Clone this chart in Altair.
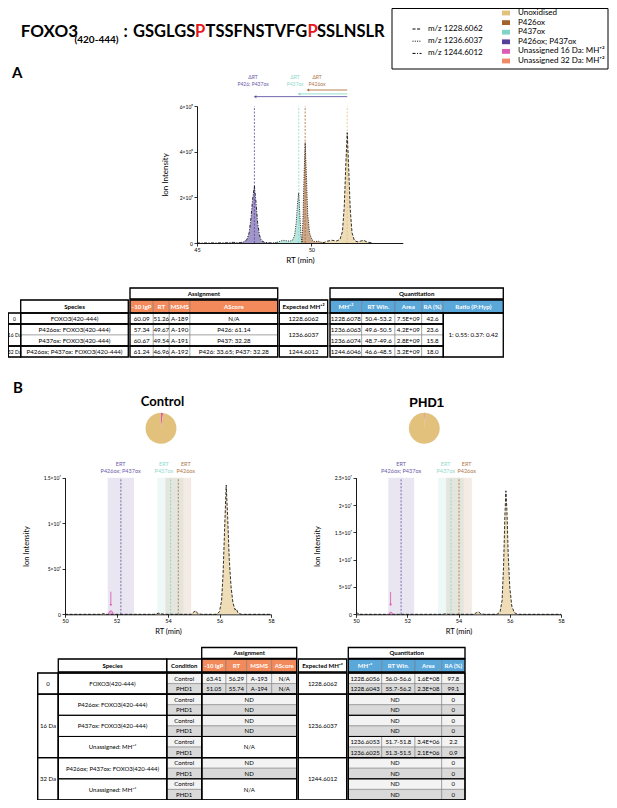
import altair as alt
import pandas as pd

W, H = 601, 792
M = 8  # page margin: reference page coords -> canvas coords

# ---------------- categories / styles ----------------
SPECIES = ["Unoxidised", "P426ox", "P437ox", "P426ox; P437ox",
           "Unassigned 16 Da: MH⁺²", "Unassigned 32 Da: MH⁺²"]
SPECIES_COLORS = ["#E2C17D", "#A2622C", "#7FD4C4", "#54409A", "#DD5CB6", "#EF8B67"]
MZ = ["m/z 1228.6062", "m/z 1236.6037", "m/z 1244.6012"]
MZ_DASH = [[3, 1.6], [1, 1.3], [3, 1.5, 1, 1.5]]
SALMON = "#F38A5C"
BLUE = "#5AA7DA"
CTRL_FILL = "#F3F3F3"
PHD_FILL = "#D9D9D9"

# ---------------- Panel A chromatogram data ----------------
A_PP_RT = [45.0, 45.8, 46.4, 46.6, 46.75, 46.9, 47.05, 47.18, 47.28, 47.36, 47.43, 47.51, 47.58, 47.65, 47.73, 47.82, 47.95, 48.15, 48.5]
A_PP_INT = [0, 0.004e8, 0.01e8, 0.03e8, 0.01e8, 0.02e8, 0.05e8, 0.15e8, 0.45e8, 1.1e8, 1.9e8, 2.5e8, 1.8e8, 0.9e8, 0.35e8, 0.1e8, 0.03e8, 0.01e8, 0]
A_P437_RT = [48.4, 48.6, 48.75, 48.9, 49.05, 49.18, 49.27, 49.34, 49.4, 49.45, 49.5, 49.55, 49.6]
A_P437_INT = [0, 0.06e8, 0.12e8, 0.1e8, 0.08e8, 0.12e8, 0.35e8, 0.9e8, 1.8e8, 2.2e8, 1.2e8, 0.3e8, 0.03e8]
A_P426_RT = [49.58, 49.63, 49.68, 49.73, 49.78, 49.84, 49.92, 50.02, 50.15, 50.3, 50.45, 50.6]
A_P426_INT = [0.03e8, 0.9e8, 2.9e8, 4.4e8, 3.1e8, 1.3e8, 0.45e8, 0.15e8, 0.06e8, 0.08e8, 0.03e8, 0]
A_UNOX_RT = [50.5, 50.7, 50.9, 51.1, 51.25, 51.36, 51.44, 51.51, 51.57, 51.63, 51.7, 51.78, 51.88, 52.0, 52.15, 52.28, 52.45, 52.7]
A_UNOX_INT = [0, 0.08e8, 0.12e8, 0.09e8, 0.15e8, 0.5e8, 1.6e8, 3.5e8, 4.83e8, 3.4e8, 1.5e8, 0.45e8, 0.12e8, 0.05e8, 0.08e8, 0.12e8, 0.04e8, 0]

A_PEAK_SPECIES = ["P426ox; P437ox", "P437ox", "P426ox", "Unoxidised"]
A_PEAK_RT = [47.51, 49.45, 49.73, 51.57]
A_ARROW_SPECIES = ["P426ox", "P437ox", "P426ox; P437ox"]
A_ARROW_FROM = [51.57, 51.57, 51.57]
A_ARROW_TO = [49.85, 49.46, 47.54]
A_ARROW_LEVEL = [6.70e8, 6.53e8, 6.41e8]
A_LABEL_SPECIES = ["P426ox; P437ox", "P437ox", "P426ox"]
A_LABEL_RT = [47.45, 49.29, 50.25]
A_LABEL_TEXT = ["ΔRT\nP426; P437ox", "ΔRT\nP437ox", "ΔRT\nP426ox"]
A_LABEL_LEVEL = 7.12e8

# ---------------- Panel B chromatogram data ----------------
C_UNOX_RT = [50.0, 51.4, 51.5, 51.6, 53.5, 53.62, 53.72, 53.85, 54.9, 55.0, 55.07, 55.15, 55.3, 55.9, 56.0, 56.08, 56.14, 56.2, 56.26, 56.32, 56.38, 56.45, 56.52, 56.6, 56.65, 56.72, 56.85, 58.0]
C_UNOX_INT = [0, 0, 0.08e6, 0, 0, 0.12e6, 0.06e6, 0, 0, 0.25e6, 0.4e6, 0.1e6, 0, 0, 0.3e6, 1.5e6, 4.5e6, 9.5e6, 14.2e6, 10.5e6, 6.0e6, 3.0e6, 1.3e6, 0.5e6, 0.6e6, 0.15e6, 0, 0]
C_PINK_RT = [51.68, 51.72, 51.76, 51.8, 51.84, 51.88]
C_PINK_INT = [0, 0.25e6, 0.38e6, 0.38e6, 0.25e6, 0]
P_UNOX_RT = [50.0, 50.05, 50.1, 50.15, 53.4, 53.5, 53.6, 54.6, 54.7, 54.78, 54.86, 55.0, 55.5, 55.62, 55.7, 55.76, 55.81, 55.85, 55.89, 55.94, 56.0, 56.08, 56.18, 56.3, 58.0]
P_UNOX_INT = [0, 0.2e6, 0.15e6, 0, 0, 0.1e6, 0, 0, 0.3e6, 0.45e6, 0.15e6, 0, 0, 0.4e6, 2.5e6, 9e6, 18e6, 22.6e6, 19e6, 11e6, 5e6, 1.5e6, 0.3e6, 0, 0]
P_PINK_RT = [51.28, 51.32, 51.36, 51.4, 51.44]
P_PINK_INT = [0, 0.3e6, 0.4e6, 0.3e6, 0]

ERT_SPECIES = ["P426ox; P437ox", "P437ox", "P426ox"]
ERT_TEXT = ["ERT\nP426ox; P437ox", "ERT\nP437ox", "ERT\nP426ox"]
C_ERT = [52.17, 54.1, 54.4]
C_BAND_LO = [51.66, 53.58, 53.9]
C_BAND_HI = [52.68, 54.6, 54.9]
C_LABEL_RT = [52.16, 53.84, 54.69]
P_ERT = [51.76, 53.71, 54.02]
P_BAND_LO = [51.26, 53.2, 53.52]
P_BAND_HI = [52.27, 54.2, 54.52]
P_LABEL_RT = [51.76, 53.5, 54.32]
C_PINK_ARROW = (51.78, 2.48e6, 1.0e6)
P_PINK_ARROW = (51.35, 4.1e6, 1.7e6)

PIE_SPECIES = ["Unassigned 16 Da: MH⁺²", "Unoxidised"]
PIE_CONTROL = [2.2, 97.8]
PIE_PHD1 = [0.9, 99.1]

# ---------------- Table A values ----------------
TA_SPECIES = ["FOXO3(420-444)", "P426ox: FOXO3(420-444)", "P437ox: FOXO3(420-444)", "P426ox; P437ox: FOXO3(420-444)"]
TA_LGP = ["60.09", "57.34", "60.67", "61.24"]
TA_RT = ["51.26", "49.67", "49.54", "46.96"]
TA_MSMS = ["A-189", "A-190", "A-191", "A-192"]
TA_ASCORE = ["N/A", "P426: 61.14", "P437: 32.28", "P426: 33.65; P437: 32.28"]
TA_MH = ["1228.6078", "1236.6063", "1236.6074", "1244.6046"]
TA_RTWIN = ["50.4-53.2", "49.6-50.5", "48.7-49.6", "46.6-48.5"]
TA_AREA = ["7.5E+09", "4.2E+09", "2.8E+09", "3.2E+09"]
TA_RA = ["42.6", "23.6", "15.8", "18.0"]
TA_GROUPS = [("0", 0, 0), ("16 Da", 1, 2), ("32 Da", 3, 3)]
TA_EXPECTED = [("1228.6062", 0, 0), ("1236.6037", 1, 2), ("1244.6012", 3, 3)]
TA_RATIO = "1: 0.55: 0.37: 0.42"

# ---------------- Table B values ----------------
TB_GROUPS = [("0", 0, 1), ("16 Da", 2, 7), ("32 Da", 8, 11)]
TB_SPECIES = [("FOXO3(420-444)", 0, 1), ("P426ox: FOXO3(420-444)", 2, 3), ("P437ox: FOXO3(420-444)", 4, 5),
              ("Unassigned: MH⁺²", 6, 7), ("P426ox; P437ox: FOXO3(420-444)", 8, 9), ("Unassigned: MH⁺²", 10, 11)]
TB_EXPECTED = [("1228.6062", 0, 1), ("1236.6037", 2, 7), ("1244.6012", 8, 11)]
TB_CONDITIONS = ["Control", "PHD1"]
TB_ASSIGN = {0: ["63.41", "56.29", "A-193", "N/A"], 1: ["51.05", "55.74", "A-194", "N/A"]}
TB_ND_ASSIGN_ROWS = [2, 3, 4, 5, 8, 9]
TB_NA_ASSIGN_PAIRS = [(6, 7), (10, 11)]
TB_QUANT = {0: ["1228.6056", "56.0-56.6", "1.6E+08"], 1: ["1228.6043", "55.7-56.2", "2.3E+08"],
            6: ["1236.6053", "51.7-51.8", "3.4E+06"], 7: ["1236.6025", "51.3-51.5", "2.1E+06"]}
TB_RA = ["97.8", "99.1", "0", "0", "0", "0", "2.2", "0.9", "0", "0", "0", "0"]

# ---------------- layout (reference page pixels) ----------------
TA_COLS = [(8.3, 20.7), (20.7, 128.3), (130, 153.3), (153.3, 169.3), (169.3, 190), (190, 277.7),
           (279.3, 327.7), (330, 361.7), (361.7, 395), (395, 421.7), (421.7, 443.3), (443.3, 503.3)]
TA_ROWS = [(288, 299), (300, 313)] + [(313 + 11 * i, 324 + 11 * i) for i in range(4)]
TB_COLS = [(37.7, 58.3), (58.3, 166.7), (166.7, 201.7), (201.7, 226), (226, 246.7), (246.7, 271.7),
           (271.7, 296.7), (298.3, 346.7), (348.3, 381.7), (381.7, 415), (415, 441.7), (441.7, 465)]
TB_ROWS = [(647.5, 658.5), (659, 672)] + [(673 + 10.58 * i, 673 + 10.58 * (i + 1)) for i in range(12)]

COLOR_SCALE = alt.Scale(domain=SPECIES, range=SPECIES_COLORS)
DASH_SCALE = alt.Scale(domain=MZ, range=MZ_DASH)
FONT = "Lato"


def col_enc():
    return alt.Color("species:N", scale=COLOR_SCALE, legend=None)


def traces_df(traces):
    rows = []
    for sp, mz, rts, ints in traces:
        for r, v in zip(rts, ints):
            rows.append({"species": sp, "mz": mz, "rt": r, "inten": v})
    return pd.DataFrame(rows)


AX = dict(grid=False, domainColor="black", tickColor="black", labelColor="black", titleColor="black",
          labelFont=FONT, titleFont=FONT, titleFontWeight="normal", tickSize=3, tickWidth=0.8,
          domainWidth=0.9, labelPadding=1.5, labelFlush=False, labelOverlap=False)


def chrom_layers(tr, pink, xsc, ysc, xaxis, yaxis, rules, bands, labels,
                 arrows=None, pink_arrow=None, dash_legend=None, label_size=5.0):
    L = []
    X = lambda f, axis=None: alt.X(f, scale=xsc, axis=axis)
    Y = lambda f, axis=None: alt.Y(f, scale=ysc, axis=axis, stack=None)
    if bands is not None:
        L.append(alt.Chart(bands).mark_rect(opacity=0.13).encode(
            x=X("lo:Q"), x2="hi:Q", y=Y("y0:Q"), y2="ytop:Q", color=col_enc()))
    L.append(alt.Chart(tr).mark_area(fillOpacity=0.55).encode(
        x=X("rt:Q", xaxis), y=Y("inten:Q", yaxis), color=col_enc()))
    L.append(alt.Chart(rules).mark_rule(strokeDash=[2, 1.5], strokeWidth=0.8, opacity=0.95).encode(
        x=X("rt:Q"), y=Y("y0:Q"), y2="ytop:Q", color=col_enc()))
    L.append(alt.Chart(tr).mark_line(color="black", strokeWidth=0.8).encode(
        x=X("rt:Q"), y=Y("inten:Q"), detail="species:N",
        strokeDash=alt.StrokeDash("mz:N", scale=DASH_SCALE, legend=dash_legend)))
    if pink is not None:
        L.append(alt.Chart(pink).mark_area(fillOpacity=0.35).encode(
            x=X("rt:Q"), y=Y("inten:Q"), color=col_enc()))
        L.append(alt.Chart(pink).mark_line(strokeWidth=0.9, color=SPECIES_COLORS[4]).encode(
            x=X("rt:Q"), y=Y("inten:Q")))
    if arrows is not None:
        L.append(alt.Chart(arrows).mark_rule(strokeWidth=1, opacity=0.8).encode(
            x=X("rt_from:Q"), x2="rt_to:Q", y=Y("level:Q"), color=col_enc()))
        L.append(alt.Chart(arrows).mark_point(shape="triangle-left", filled=True, size=9, opacity=0.9).encode(
            x=X("rt_to:Q"), y=Y("level:Q"), color=col_enc()))
    if pink_arrow is not None:
        L.append(alt.Chart(pink_arrow).mark_rule(strokeWidth=0.9).encode(
            x=X("rt:Q"), y=Y("ytop:Q"), y2="ybot:Q", color=col_enc()))
        L.append(alt.Chart(pink_arrow).mark_point(shape="triangle-down", filled=True, size=7, opacity=1).encode(
            x=X("rt:Q"), y=Y("ybot:Q"), color=col_enc()))
    L.append(alt.Chart(labels).mark_text(font=FONT, fontSize=label_size, lineBreak="\n", lineHeight=label_size + 1.6,
                                         baseline="bottom", opacity=0.85).encode(
        x=X("rt:Q"), y=Y("level:Q"), text="text:N", color=col_enc()))
    return L


layers = []

# ---------------- legend box ----------------
one = pd.DataFrame({"k": [0]})
layers.append(alt.Chart(one).mark_rect(fill="white", stroke="black", strokeWidth=1).encode(
    x=alt.value(392 - M), x2=alt.value(608 - M), y=alt.value(8.5 - M), y2=alt.value(69 - M)))

# ---------------- heading texts ----------------
HEAD_TEXT = ["FOXO3", "(420-444)", ":", "GSGLGS", "P", "TSSFNSTVFG", "P", "SSLNSLR", "A", "B"]
HEAD_X = [20.7, 74.5, 123.5, 133, 195, 205.5, 307.5, 317, 12, 13]
HEAD_Y = [36.7, 43, 36.7, 36.7, 36.7, 36.7, 36.7, 36.7, 78, 393]
HEAD_STYLE = ["fox", "sub", "big", "big", "red", "big", "red", "big", "panel", "panel"]
head = pd.DataFrame({"text": HEAD_TEXT, "x": [v - M for v in HEAD_X], "y": [v - M for v in HEAD_Y], "style": HEAD_STYLE})
for st, kw in [("fox", dict(fontSize=17, color="black")), ("big", dict(fontSize=16.5, color="black")),
               ("sub", dict(fontSize=10, color="black")),
               ("red", dict(fontSize=16.5, color="#E5161D")), ("panel", dict(fontSize=15, color="black"))]:
    layers.append(alt.Chart(head[head["style"] == st]).mark_text(
        font=FONT, fontWeight="bold", align="left", baseline="alphabetic", **kw).encode(
        x=alt.X("x:Q", scale=None, axis=None), y=alt.Y("y:Q", scale=None, axis=None), text="text:N"))

# ---------------- Panel A ----------------
A_XS = alt.Scale(domain=[45, 54], range=[197 - M, 402.8 - M], nice=False, zero=False)
A_YS = alt.Scale(domain=[0, 6e8], range=[243 - M, 106 - M], nice=False, zero=False)
a_tr = traces_df([("P426ox; P437ox", MZ[2], A_PP_RT, A_PP_INT), ("P437ox", MZ[1], A_P437_RT, A_P437_INT),
                  ("P426ox", MZ[1], A_P426_RT, A_P426_INT), ("Unoxidised", MZ[0], A_UNOX_RT, A_UNOX_INT)])
a_rules = pd.DataFrame({"species": A_PEAK_SPECIES, "rt": A_PEAK_RT, "y0": 0, "ytop": 6e8})
a_arrows = pd.DataFrame({"species": A_ARROW_SPECIES, "rt_from": A_ARROW_FROM, "rt_to": A_ARROW_TO, "level": A_ARROW_LEVEL})
a_labels = pd.DataFrame({"species": A_LABEL_SPECIES, "rt": A_LABEL_RT, "text": A_LABEL_TEXT, "level": A_LABEL_LEVEL})
a_xaxis = alt.Axis(values=[45, 50], orient="bottom", offset=(243 - M) - H, title="RT (min)", titleFontSize=8,
                   labelFontSize=5.5, titlePadding=3, **AX)
a_yaxis = alt.Axis(values=[0, 2e8, 4e8, 6e8], orient="left", offset=-(197 - M), title="Ion Intensity",
                   titleFontSize=8, labelFontSize=5, titlePadding=10,
                   labelExpr="datum.value == 0 ? '0' : (datum.value / 1e8) + '×10⁸'", **AX)
dash_legend = alt.Legend(orient="none", legendX=412 - M, legendY=24 - M, title=None, labelFont=FONT,
                         labelFontSize=8, labelColor="black", symbolType="stroke", symbolSize=81,
                         symbolStrokeWidth=1, symbolStrokeColor="black", rowPadding=3.2, labelOffset=6, padding=0)
layers += chrom_layers(a_tr, None, A_XS, A_YS, a_xaxis, a_yaxis, a_rules, None, a_labels,
                       arrows=a_arrows, dash_legend=dash_legend, label_size=5.0)


# ---------------- Panel B ----------------
def b_panel(unox_rt, unox_int, pink_rt, pink_int, x0, x1, ytop, yticks, ert, lo, hi, lab_rt, parrow, label_level, tpad):
    xsc = alt.Scale(domain=[50, 58], range=[x0 - M, x1 - M], nice=False, zero=False)
    ysc = alt.Scale(domain=[0, ytop], range=[614.3 - M, 477.7 - M], nice=False, zero=False)
    tr = traces_df([("Unoxidised", MZ[0], unox_rt, unox_int)])
    pk = traces_df([("Unassigned 16 Da: MH⁺²", MZ[1], pink_rt, pink_int)])
    rules = pd.DataFrame({"species": ERT_SPECIES, "rt": ert, "y0": 0, "ytop": ytop})
    bands = pd.DataFrame({"species": ERT_SPECIES, "lo": lo, "hi": hi, "y0": 0, "ytop": ytop})
    labels = pd.DataFrame({"species": ERT_SPECIES, "rt": lab_rt, "text": ERT_TEXT, "level": label_level})
    pa = pd.DataFrame({"species": ["Unassigned 16 Da: MH⁺²"], "rt": [parrow[0]], "ytop": [parrow[1]], "ybot": [parrow[2]]})
    xaxis = alt.Axis(values=[50, 52, 54, 56, 58], orient="bottom", offset=(614.3 - M) - H, title="RT (min)",
                     titleFontSize=7.5, labelFontSize=5.5, titlePadding=3, **AX)
    yaxis = alt.Axis(values=yticks, orient="left", offset=-(x0 - M), title="Ion Intensity", titleFontSize=7.5,
                     labelFontSize=5, titlePadding=tpad,
                     labelExpr="datum.value == 0 ? '0' : datum.value < 1e7 ? (datum.value / 1e6) + '×10⁶' : (datum.value / 1e7) + '×10⁷'",
                     **AX)
    return chrom_layers(tr, pk, xsc, ysc, xaxis, yaxis, rules, bands, labels,
                        pink_arrow=pa, label_size=5.5)


layers += b_panel(C_UNOX_RT, C_UNOX_INT, C_PINK_RT, C_PINK_INT, 65, 271, 1.5e7, [0, 5e6, 1e7, 1.5e7],
                  C_ERT, C_BAND_LO, C_BAND_HI, C_LABEL_RT, C_PINK_ARROW, 1.618e7, 13)
layers += b_panel(P_UNOX_RT, P_UNOX_INT, P_PINK_RT, P_PINK_INT, 356, 561, 2.5e7, [0, 5e6, 1e7, 1.5e7, 2e7, 2.5e7],
                  P_ERT, P_BAND_LO, P_BAND_HI, P_LABEL_RT, P_PINK_ARROW, 2.696e7, 13)

# titles over B panels
btitle = pd.DataFrame({"text": ["Control", "PHD1"], "x": [162.5 - M, 426.7 - M], "y": [405.7 - M, 406.7 - M],
                       "font": [FONT, "Liberation Sans"]})
for f in [FONT, "Liberation Sans"]:
    layers.append(alt.Chart(btitle[btitle["font"] == f]).mark_text(
        font=f, fontWeight="bold", fontSize=13, align="center", baseline="alphabetic").encode(
        x=alt.X("x:Q", scale=None, axis=None), y=alt.Y("y:Q", scale=None, axis=None), text="text:N"))

# pies (host of the species colour legend, through the fill channel)
color_legend = alt.Legend(orient="none", legendX=502 - M, legendY=9 - M, title=None, labelFont=FONT,
                          labelFontSize=8, labelColor="black", symbolType="M-1,-0.6H1V0.6H-1Z", symbolSize=64,
                          symbolStrokeWidth=0, symbolOpacity=1, rowPadding=1.6, labelOffset=8, padding=0,
                          labelLimit=200)
for vals, cx, leg in [(PIE_CONTROL, 161, color_legend), (PIE_PHD1, 424.3, None)]:
    pie = pd.DataFrame({"species": PIE_SPECIES, "ra": vals, "ord": [0, 1]})
    layers.append(alt.Chart(pie).mark_arc(radius=15.5).encode(
        theta=alt.Theta("ra:Q", stack=True), order=alt.Order("ord:Q"),
        fill=alt.Fill("species:N", scale=alt.Scale(domain=SPECIES, range=SPECIES_COLORS), legend=leg),
        x=alt.value(cx - M), y=alt.value(428.3 - M)))


# ---------------- tables ----------------
def table_layers(cols, rows, cells, blocks, fs):
    recs = []
    for (r0, r1, c0, c1, text, fill, style) in cells:
        x, x2 = cols[c0][0] - M, cols[c1][1] - M
        y, y2 = rows[r0][0] - M, rows[r1][1] - M
        recs.append(dict(x=x, x2=x2, y=y, y2=y2, xc=(x + x2) / 2, yc=(y + y2) / 2 + 0.3,
                         text=text, fill=fill, style=style))
    df = pd.DataFrame(recs)
    out = [alt.Chart(df).mark_rect(stroke="#777", strokeWidth=0.5).encode(
        x=alt.X("x:Q", scale=None, axis=None), x2="x2:Q", y=alt.Y("y:Q", scale=None, axis=None), y2="y2:Q",
        fill=alt.Fill("fill:N", scale=None))]
    for st, kw in [("n", dict(color="black", fontSize=fs)), ("b", dict(color="black", fontWeight="bold", fontSize=fs)),
                   ("w", dict(color="white", fontWeight="bold", fontSize=fs)), ("s", dict(color="black", fontSize=fs - 1.2))]:
        sub = df[(df["style"] == st) & (df["text"] != "")]
        if len(sub):
            out.append(alt.Chart(sub).mark_text(font=FONT, baseline="middle", **kw).encode(
                x=alt.X("xc:Q", scale=None, axis=None), y=alt.Y("yc:Q", scale=None, axis=None), text="text:N"))
    brec = []
    for (r0, r1, c0, c1, sw) in blocks:
        brec.append(dict(x=cols[c0][0] - M, x2=cols[c1][1] - M, y=rows[r0][0] - M, y2=rows[r1][1] - M, sw=sw))
    bdf = pd.DataFrame(brec)
    out.append(alt.Chart(bdf).mark_rect(fillOpacity=0, stroke="black").encode(
        x=alt.X("x:Q", scale=None, axis=None), x2="x2:Q", y=alt.Y("y:Q", scale=None, axis=None), y2="y2:Q",
        strokeWidth=alt.StrokeWidth("sw:Q", scale=None)))
    return out


# Table A cells
ca = [(0, 0, 2, 5, "Assignment", "white", "b"), (0, 0, 7, 11, "Quantitation", "white", "b"),
      (1, 1, 1, 1, "Species", "white", "b"), (1, 1, 6, 6, "Expected MH⁺²", "white", "b")]
for i, h in enumerate(["-10 lgP", "RT", "MSMS", "AScore"]):
    ca.append((1, 1, 2 + i, 2 + i, h, SALMON, "w"))
for i, h in enumerate(["MH⁺²", "RT Win.", "Area", "RA (%)", "Ratio (P:Hyp)"]):
    ca.append((1, 1, 7 + i, 7 + i, h, BLUE, "w"))
for g, r0, r1 in TA_GROUPS:
    ca.append((2 + r0, 2 + r1, 0, 0, g, "white", "s"))
for g, r0, r1 in TA_EXPECTED:
    ca.append((2 + r0, 2 + r1, 6, 6, g, "white", "n"))
for i in range(4):
    r = 2 + i
    for c, v in zip([1, 2, 3, 4, 5, 7, 8, 9, 10],
                    [TA_SPECIES[i], TA_LGP[i], TA_RT[i], TA_MSMS[i], TA_ASCORE[i], TA_MH[i], TA_RTWIN[i], TA_AREA[i], TA_RA[i]]):
        ca.append((r, r, c, c, v, "white", "n"))
ca.append((2, 5, 11, 11, TA_RATIO, "white", "n"))
ba = [(0, 0, 2, 5, 1.3), (0, 0, 7, 11, 1.3), (1, 1, 1, 1, 1.3), (1, 1, 2, 5, 1.3), (1, 1, 6, 6, 1.3), (1, 1, 7, 11, 1.3),
      (2, 5, 11, 11, 1.3)]
for _, r0, r1 in TA_GROUPS:
    for c0, c1 in [(0, 0), (1, 1), (2, 5), (6, 6), (7, 10)]:
        ba.append((2 + r0, 2 + r1, c0, c1, 1.3))
layers += table_layers(TA_COLS, TA_ROWS, ca, ba, 6.2)

# Table B cells
cb = [(0, 0, 3, 6, "Assignment", "white", "b"), (0, 0, 8, 11, "Quantitation", "white", "b"),
      (1, 1, 1, 1, "Species", "white", "b"), (1, 1, 2, 2, "Condition", "white", "b"),
      (1, 1, 7, 7, "Expected MH⁺²", "white", "b")]
for i, h in enumerate(["-10 lgP", "RT", "MSMS", "AScore"]):
    cb.append((1, 1, 3 + i, 3 + i, h, SALMON, "w"))
for i, h in enumerate(["MH⁺²", "RT Win.", "Area", "RA (%)"]):
    cb.append((1, 1, 8 + i, 8 + i, h, BLUE, "w"))
for g, r0, r1 in TB_GROUPS:
    cb.append((2 + r0, 2 + r1, 0, 0, g, "white", "n"))
for g, r0, r1 in TB_SPECIES:
    cb.append((2 + r0, 2 + r1, 1, 1, g, "white", "n"))
for g, r0, r1 in TB_EXPECTED:
    cb.append((2 + r0, 2 + r1, 7, 7, g, "white", "n"))
for i in range(12):
    r = 2 + i
    fill = CTRL_FILL if i % 2 == 0 else PHD_FILL
    cb.append((r, r, 2, 2, TB_CONDITIONS[i % 2], fill, "n"))
    if i in TB_ASSIGN:
        for j, v in enumerate(TB_ASSIGN[i]):
            cb.append((r, r, 3 + j, 3 + j, v, fill, "n"))
    elif i in TB_ND_ASSIGN_ROWS:
        cb.append((r, r, 3, 6, "ND", fill, "n"))
    if i in TB_QUANT:
        for j, v in enumerate(TB_QUANT[i]):
            cb.append((r, r, 8 + j, 8 + j, v, fill, "n"))
    else:
        cb.append((r, r, 8, 10, "ND", fill, "n"))
    cb.append((r, r, 11, 11, TB_RA[i], fill, "n"))
for r0, r1 in TB_NA_ASSIGN_PAIRS:
    cb.append((2 + r0, 2 + r1, 3, 6, "N/A", "white", "n"))
bb = [(0, 0, 3, 6, 1.3), (0, 0, 8, 11, 1.3), (1, 1, 1, 1, 1.3), (1, 1, 2, 2, 1.3), (1, 1, 3, 6, 1.3),
      (1, 1, 7, 7, 1.3), (1, 1, 8, 11, 1.3)]
for _, r0, r1 in TB_GROUPS:
    for c0, c1 in [(0, 0), (1, 1), (2, 2), (3, 6), (7, 7), (8, 11)]:
        bb.append((2 + r0, 2 + r1, c0, c1, 1.4))
for _, r0, r1 in TB_SPECIES:
    for c0, c1 in [(1, 1), (2, 2), (3, 6), (8, 11)]:
        bb.append((2 + r0, 2 + r1, c0, c1, 0.9))
layers += table_layers(TB_COLS, TB_ROWS, cb, bb, 6.0)

chart = alt.layer(*layers).resolve_scale(
    x="independent", y="independent", fill="independent", strokeWidth="independent"
).resolve_axis(x="independent", y="independent").properties(
    width=W, height=H, padding=0, autosize=alt.AutoSizeParams(type="none")
).configure_view(stroke=None)

chart.save("out.html", embed_options={"renderer": "svg", "actions": False})
